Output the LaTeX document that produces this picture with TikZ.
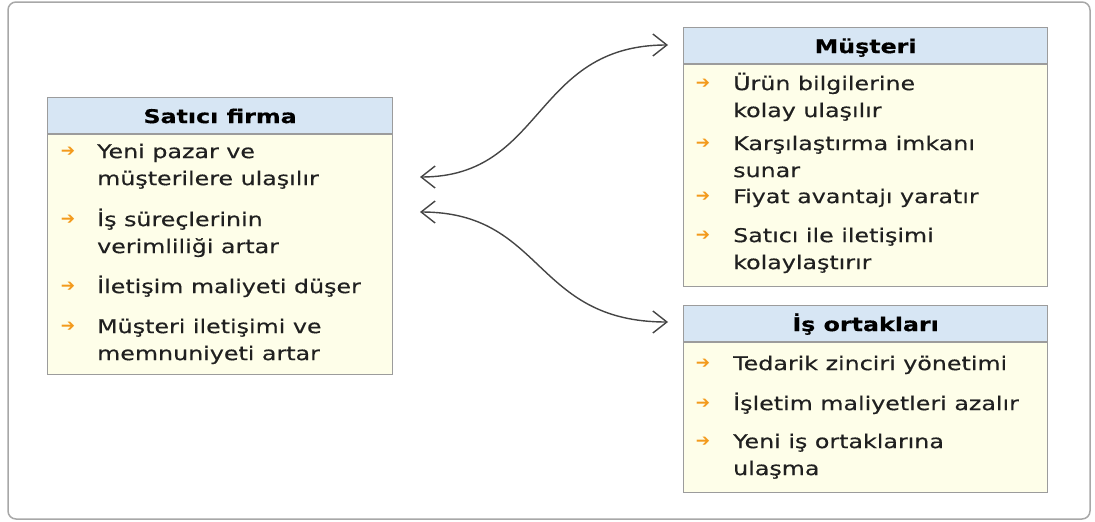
\documentclass[tikz,border=0pt]{standalone}
\usepackage{fontspec}
\setmainfont{DejaVu Sans}[FakeStretch=1.25,FakeBold=0.4]
\newfontfamily\bulfont{DejaVu Sans}
\usetikzlibrary{arrows.meta,positioning}
\definecolor{framegray}{HTML}{A8A8A8}
\definecolor{boxgray}{HTML}{9C9C9C}
\definecolor{headblue}{HTML}{D7E6F4}
\definecolor{bodycream}{HTML}{FEFEE9}
\definecolor{bulorange}{HTML}{F39A1C}
\definecolor{linkgray}{HTML}{454545}
\definecolor{txtgray}{HTML}{202020}
\tikzset{
  head/.style={draw=boxgray,fill=headblue,line width=1.2pt,minimum height=36pt,inner sep=0pt,
    anchor=north west,text height=18pt,text depth=3pt,font=\fontsize{19}{27}\selectfont\bfseries},
  body/.style={draw=boxgray,fill=bodycream,line width=1.2pt,inner sep=0pt,below=0pt of #1},
  itm/.style={anchor=north west,inner sep=0pt,align=left,text=txtgray,font=\fontsize{19}{27}\selectfont},
  bul/.style={text=bulorange,inner sep=0pt,font=\bulfont\fontsize{17}{17}\selectfont},
  link/.style={draw=linkgray,line width=1.4pt,
    {Straight Barb[length=14pt,width=22pt]}-{Straight Barb[length=14pt,width=22pt]}}
}
\begin{document}
\begin{tikzpicture}[x=1pt,y=-1pt]
\useasboundingbox (0,0) rectangle (1095,522);
\draw[framegray,line width=1.5pt,rounded corners=8pt] (8,2) rectangle (1090,519);
% Satici firma
\node[head,minimum width=345pt] (sh) at (47,97) {Satıcı firma};
\node[body=sh,minimum width=345pt,minimum height=240pt] (sb) {};
\node[bul] (sb1) at (68,152) {➔};
\node[itm] (si1) at (97,139) {\strut Yeni pazar ve\\müşterilere ulaşılır};
\node[bul] (sb2) at (68,220) {➔};
\node[itm] (si2) at (97,207) {\strut İş süreçlerinin\\verimliliği artar};
\node[bul] (sb3) at (68,287) {➔};
\node[itm] (si3) at (97,274) {\strut İletişim maliyeti düşer};
\node[bul] (sb4) at (68,327) {➔};
\node[itm] (si4) at (97,314) {\strut Müşteri iletişimi ve\\memnuniyeti artar};
% Musteri
\node[head,minimum width=364pt] (mh) at (683,27) {Müşteri};
\node[body=mh,minimum width=364pt,minimum height=222pt] (mb) {};
\node[bul] (mb1) at (703,84) {➔};
\node[itm] (mi1) at (733,71) {\strut Ürün bilgilerine\\kolay ulaşılır};
\node[bul] (mb2) at (703,144) {➔};
\node[itm] (mi2) at (733,131) {\strut Karşılaştırma imkanı\\sunar};
\node[bul] (mb3) at (703,197) {➔};
\node[itm] (mi3) at (733,184) {\strut Fiyat avantajı yaratır};
\node[bul] (mb4) at (703,236) {➔};
\node[itm] (mi4) at (733,223) {\strut Satıcı ile iletişimi\\kolaylaştırır};
% Is ortaklari
\node[head,minimum width=364pt] (oh) at (683,305) {İş ortakları};
\node[body=oh,minimum width=364pt,minimum height=150pt] (ob) {};
\node[bul] (ob1) at (703,364) {➔};
\node[itm] (oi1) at (733,351) {\strut Tedarik zinciri yönetimi};
\node[bul] (ob2) at (703,404) {➔};
\node[itm] (oi2) at (733,391) {\strut İşletim maliyetleri azalır};
\node[bul] (ob3) at (703,442) {➔};
\node[itm] (oi3) at (733,429) {\strut Yeni iş ortaklarına\\ulaşma};
% links
\coordinate (sA) at (420,177);
\coordinate (sB) at (420,212);
\coordinate (mA) at (668,45);
\coordinate (oA) at (668,322);
\draw[link] (sA) .. controls +(125,0) and +(-135,0) .. (mA);
\draw[link] (sB) .. controls +(125,0) and +(-135,0) .. (oA);
\end{tikzpicture}
\end{document}
